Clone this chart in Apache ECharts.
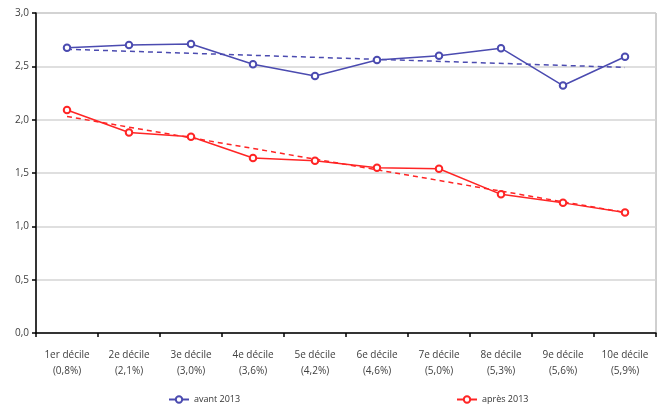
<!DOCTYPE html>
<html><head><meta charset="utf-8">
<script src="https://cdn.jsdelivr.net/npm/echarts@6/dist/echarts.min.js"></script>
<style>html,body{margin:0;padding:0;background:#fff}#c{width:663px;height:406px}</style>
</head><body><div id="c"></div>
<script>
const categories = ['1er décile\n(0,8%)','2e décile\n(2,1%)','3e décile\n(3,0%)','4e décile\n(3,6%)','5e décile\n(4,2%)','6e décile\n(4,6%)','7e décile\n(5,0%)','8e décile\n(5,3%)','9e décile\n(5,6%)','10e décile\n(5,9%)'];
const avant2013 = [2.675, 2.70, 2.71, 2.52, 2.41, 2.56, 2.60, 2.67, 2.32, 2.59];
const apres2013 = [2.09, 1.88, 1.84, 1.64, 1.615, 1.55, 1.54, 1.30, 1.22, 1.13];
// trend line endpoints (first and last décile)
const avantTrend = [2.66, 2.49];
const apresTrend = [2.03, 1.13];
const yTicks = [0, 0.5, 1, 1.5, 2, 2.5, 3];

const BLUE = '#4b4bb0', RED = '#ff2525';
function ends(pair){ const a = new Array(categories.length).fill(null); a[0]=pair[0]; a[a.length-1]=pair[1]; return a; }
const font = '"Open Sans", "Noto Sans", sans-serif';
const chart = echarts.init(document.getElementById('c'), null, {renderer:'canvas'});
chart.setOption({
  animation:false,
  textStyle:{fontFamily:font},
  grid:{left:36, right:7, top:13, bottom:73, show:true, borderColor:'#a0a0a0', borderWidth:1},
  legend:[
    {data:['avant 2013'], left:163, top:390, itemWidth:20, itemHeight:8, itemGap:4,
     textStyle:{fontSize:9, color:'#333', fontFamily:font}},
    {data:['après 2013'], left:451, top:390, itemWidth:20, itemHeight:8, itemGap:4,
     textStyle:{fontSize:9, color:'#333', fontFamily:font}}
  ],
  xAxis:{type:'category', data:categories, boundaryGap:true,
    axisLine:{lineStyle:{color:'#000', width:1.5}},
    axisTick:{show:true, length:4, lineStyle:{color:'#000', width:1.5}},
    axisLabel:{fontSize:10, color:'#404040', lineHeight:16, margin:14, interval:0, fontFamily:font},
    splitLine:{show:false}},
  yAxis:{type:'value', min:yTicks[0], max:yTicks[yTicks.length-1], interval:0.5,
    axisLine:{show:true, lineStyle:{color:'#000', width:1.5}},
    axisTick:{show:true, length:4, lineStyle:{color:'#000', width:1.5}},
    axisLabel:{fontSize:10, color:'#404040', margin:7, fontFamily:font,
      formatter:v=>v.toFixed(1).replace('.',',')},
    splitLine:{show:true, lineStyle:{color:'#d4d4d4', width:1.5}}},
  series:[
    {name:'avant 2013', type:'line', data:avant2013, symbol:'emptyCircle', symbolSize:6.5,
     lineStyle:{color:BLUE, width:1.5}, itemStyle:{color:BLUE, borderWidth:1.5}, z:3},
    {name:'après 2013', type:'line', data:apres2013, symbol:'emptyCircle', symbolSize:6.5,
     lineStyle:{color:RED, width:1.5}, itemStyle:{color:RED, borderWidth:1.5}, z:3},
    {name:'tendance avant', type:'line', data:ends(avantTrend), connectNulls:true, symbol:'none',
     lineStyle:{color:BLUE, width:1.5, type:[5,4]}, z:2},
    {name:'tendance après', type:'line', data:ends(apresTrend), connectNulls:true, symbol:'none',
     lineStyle:{color:RED, width:1.5, type:[5,4]}, z:2}
  ]
});
</script></body></html>
